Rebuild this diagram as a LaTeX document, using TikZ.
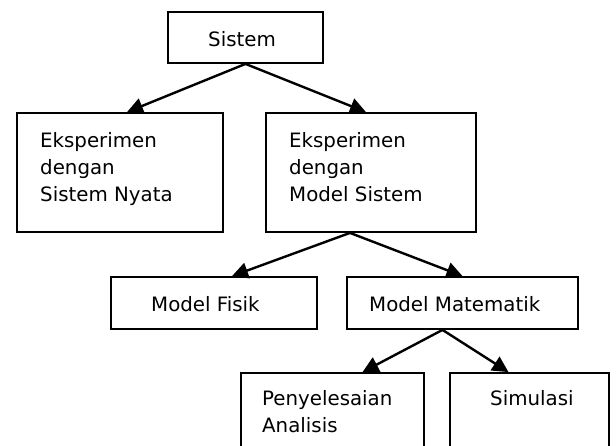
\documentclass[tikz,border=0pt]{standalone}
\usepackage{fontspec}
\setmainfont{DejaVu Sans}
\usetikzlibrary{arrows.meta,calc}
\begin{document}
\begin{tikzpicture}[x=1pt,y=-1pt,
  box/.style={draw,line width=1.8pt,inner sep=0pt,fill=white},
  lbl/.style={inner sep=0pt,anchor=base west,font=\fontsize{19.8}{27}\selectfont},
  conn/.style={line width=2.4pt,-{Triangle[length=16pt,width=16pt]}}]
\useasboundingbox (0,0) rectangle (616,446);
\clip (0,0) rectangle (616,446);
% boxes
\node[box,minimum width=155pt,minimum height=51pt] (sistem) at (245.5,37.5) {};
\node[box,minimum width=206pt,minimum height=119pt] (nyata) at (120,172.5) {};
\node[box,minimum width=210pt,minimum height=119pt] (modsis) at (371,172.5) {};
\node[box,minimum width=206pt,minimum height=52pt] (fisik) at (214,303) {};
\node[box,minimum width=231pt,minimum height=52pt] (matem) at (462.5,303) {};
\node[box,minimum width=183pt,minimum height=97pt] (analisis) at (332.5,421.5) {};
\node[box,minimum width=159pt,minimum height=97pt] (simul) at (529.5,421.5) {};
% texts
\node[lbl] (tsistem) at (208,47) {Sistem};
\node[lbl] (tnyata) at (40,148) {\parbox[t]{170pt}{Eksperimen\\dengan\\Sistem Nyata}};
\node[lbl] (tmodsis) at (289,148) {\parbox[t]{170pt}{Eksperimen\\dengan\\Model Sistem}};
\node[lbl] (tfisik) at (151,312) {Model Fisik};
\node[lbl] (tmatem) at (369,312) {Model Matematik};
\node[lbl] (tanalisis) at (262,406) {\parbox[t]{160pt}{Penyelesaian\\Analisis}};
\node[lbl] (tsimul) at (490,406) {Simulasi};
% connectors
\draw[conn] (sistem.south) -- ($(nyata.north)+(7,0)$);
\draw[conn] (sistem.south) -- ($(modsis.north)+(-5,0)$);
\draw[conn] ($(modsis.south)+(-21,0)$) -- ($(fisik.north)+(18,0)$);
\draw[conn] ($(modsis.south)+(-21,0)$) -- (matem.north);
\draw[conn] ($(matem.south)+(-20,0)$) -- ($(analisis.north)+(30,0)$);
\draw[conn] ($(matem.south)+(-20,0)$) -- ($(simul.north)+(-21,0)$);
\end{tikzpicture}
\end{document}
